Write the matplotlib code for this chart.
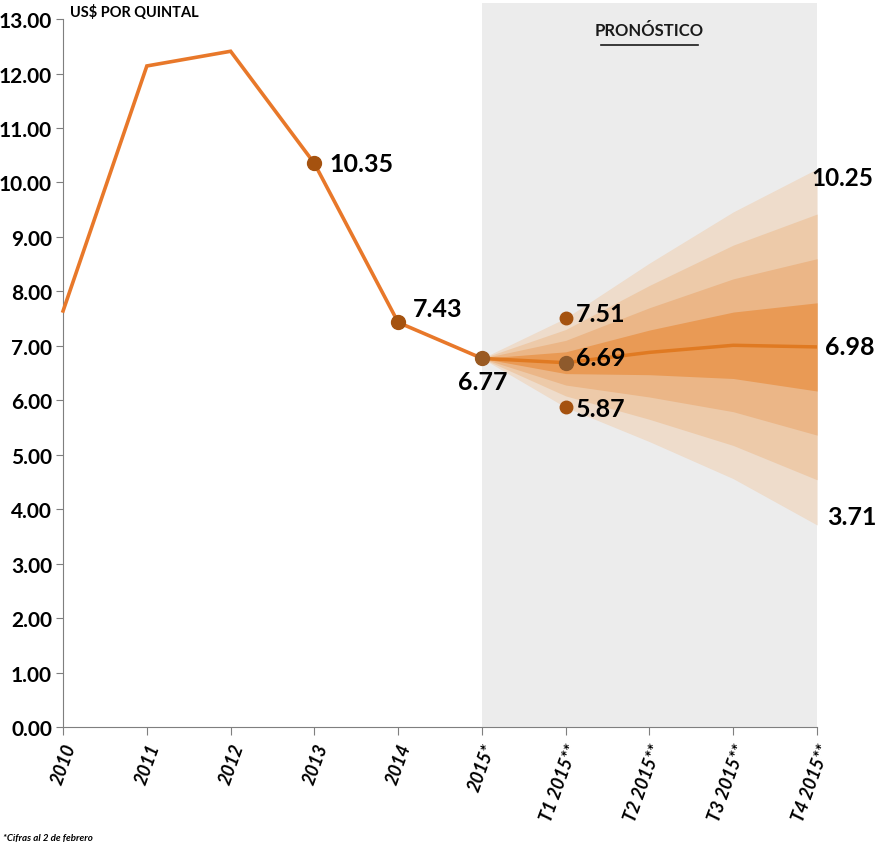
import matplotlib
matplotlib.use("Agg")
import matplotlib.pyplot as plt
import matplotlib.transforms as mtransforms

plt.rcParams['font.family'] = ['Lato', 'DejaVu Sans']

# categories on the x axis
periods = ['2010', '2011', '2012', '2013', '2014', '2015*',
           'T1 2015**', 'T2 2015**', 'T3 2015**', 'T4 2015**']

# observed price, US$ per quintal
hist_x = [0, 1, 2, 3, 4, 5]
hist_price = [7.64, 12.14, 12.41, 10.35, 7.43, 6.77]

# forecast: median path and fan bands (from 2015* to T4)
fc_x = [5, 6, 7, 8, 9]
fc_median = [6.77, 6.69, 6.88, 7.01, 6.98]
band_hi = [
    [6.77, 7.51, 8.52, 9.46, 10.25],
    [6.77, 7.30, 8.11, 8.85, 9.42],
    [6.77, 7.10, 7.70, 8.23, 8.60],
    [6.77, 6.89, 7.29, 7.62, 7.79],
]
band_lo = [
    [6.77, 5.87, 5.24, 4.56, 3.71],
    [6.77, 6.08, 5.65, 5.17, 4.54],
    [6.77, 6.28, 6.06, 5.79, 5.36],
    [6.77, 6.49, 6.47, 6.40, 6.17],
]
band_colors = ['#eedccb', '#edcaa9', '#ebb687', '#e99a55']

fig = plt.figure(figsize=(8.76, 8.45), dpi=100)
ax = fig.add_axes([0.072, 0.1385, 0.8607, 0.857])

ax.axvspan(5, 9, color='#ececec', zorder=0, lw=0)

for hi, lo, c in zip(band_hi, band_lo, band_colors):
    ax.fill_between(fc_x, lo, hi, color=c, lw=0, zorder=1)

ax.plot(fc_x, fc_median, color='#e07a22', lw=2.5, zorder=2)
ax.plot(hist_x, hist_price, color='#e8782a', lw=2.6, zorder=3,
        solid_joinstyle='miter', clip_on=False)

dot = '#a5520f'
ax.plot([3, 4], [hist_price[3], hist_price[4]], 'o', color=dot, ms=10, zorder=4)
ax.plot(5, hist_price[5], 'o', color='#9a5a22', ms=10, zorder=4)
ax.plot([6, 6], [band_hi[0][1], band_lo[0][1]], 'o', color=dot, ms=9, zorder=4)
ax.plot(6, fc_median[1], 'o', color='#8e5a2c', ms=10, zorder=4)

lab = dict(fontsize=18, fontweight='bold', color='black', zorder=5)
ax.text(3.18, hist_price[3], f'{hist_price[3]:.2f}', va='center', ha='left', **lab)
ax.text(4.18, hist_price[4] + 0.25, f'{hist_price[4]:.2f}', va='center', ha='left', **lab)
ax.text(5.3, hist_price[5] - 0.42, f'{hist_price[5]:.2f}', va='center', ha='right', **lab)
ax.text(6.12, band_hi[0][1] + 0.08, f'{band_hi[0][1]:.2f}', va='center', ha='left', **lab)
ax.text(6.12, fc_median[1] + 0.1, f'{fc_median[1]:.2f}', va='center', ha='left', **lab)
ax.text(6.12, band_lo[0][1] - 0.02, f'{band_lo[0][1]:.2f}', va='center', ha='left', **lab)

# end-of-fan labels sit right of the axes, the top one flush with the figure edge
edge = mtransforms.blended_transform_factory(fig.transFigure, ax.transData)
ax.text(0.997, band_hi[0][4] - 0.15, f'{band_hi[0][4]:.2f}', va='center', ha='right',
        transform=edge, clip_on=False, **{**lab, 'fontsize': 17.5})
ax.text(9.1, fc_median[4], f'{fc_median[4]:.2f}', va='center', ha='left', clip_on=False, **lab)
ax.text(9.12, band_lo[0][4] + 0.15, f'{band_lo[0][4]:.2f}', va='center', ha='left', clip_on=False, **lab)

ax.text(7.0, 12.8, 'PRONÓSTICO', ha='center', va='center', fontsize=12,
        fontweight='bold', color='#1a1a1a')
ax.plot([6.42, 7.58], [12.52, 12.52], color='#1a1a1a', lw=1.2)

ax.set_xlim(0, 9)
ax.set_ylim(0, 13.3)
ax.set_yticks([i for i in range(14)])
ax.set_yticklabels([f'{i:.2f}' for i in range(14)], fontsize=15, fontweight='bold')
ax.set_xticks(range(len(periods)))
ax.set_xticklabels(periods, rotation=70, ha='right', rotation_mode='anchor',
                   fontsize=13, fontweight='bold', fontstyle='italic')

for s in ['top', 'right']:
    ax.spines[s].set_visible(False)
ax.spines['left'].set_bounds(0, 13)
ax.spines['left'].set_color('#7f7f7f')
ax.spines['bottom'].set_color('#7f7f7f')
ax.tick_params(axis='y', length=5, color='#7f7f7f', pad=3)
ax.tick_params(axis='x', length=6, color='#7f7f7f', pad=4)

fig.text(0.08, 0.985, 'US$ POR QUINTAL', fontsize=10.5, fontweight='bold', va='center')
fig.text(0.003, 0.002, '*Cifras al 2 de febrero', fontsize=7, fontweight='bold',
         fontstyle='italic', va='bottom')

fig.savefig('out.png', dpi=100)
